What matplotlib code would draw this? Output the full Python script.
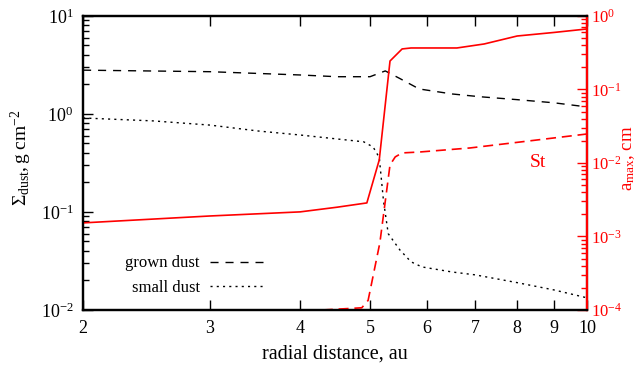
import matplotlib
matplotlib.use('Agg')
import matplotlib.pyplot as plt
from matplotlib.ticker import FixedLocator, FuncFormatter, LogLocator, NullLocator

plt.rcParams['font.family'] = ['Liberation Serif', 'DejaVu Serif']
plt.rcParams['mathtext.fontset'] = 'custom'
plt.rcParams['mathtext.rm'] = 'Liberation Serif'
plt.rcParams['mathtext.it'] = 'Liberation Serif:italic'
plt.rcParams['axes.unicode_minus'] = False

# grown dust surface density, g cm^-2
rGrown = [2.0, 3.0, 4.0, 4.5, 5.0, 5.25, 5.5, 5.85, 6.5, 7.1, 8.0, 9.0, 10.0]
sigGrown = [2.8, 2.7, 2.5, 2.4, 2.4, 2.75, 2.3, 1.8, 1.6, 1.5, 1.4, 1.3, 1.18]

# small dust surface density, g cm^-2
rSmall = [2.0, 2.5, 3.0, 3.5, 4.0, 4.5, 4.9, 5.05, 5.15, 5.22, 5.3, 5.5, 5.7, 5.9, 6.5, 7.0, 8.0, 9.0, 10.0]
sigSmall = [0.91, 0.85, 0.77, 0.67, 0.61, 0.556, 0.52, 0.46, 0.36, 0.13, 0.06, 0.041, 0.031, 0.0275,
            0.0244, 0.0228, 0.019, 0.016, 0.0133]

# maximum grain size, cm
rAmax = [2.0, 3.0, 4.0, 4.5, 4.95, 5.15, 5.33, 5.54, 5.7, 6.6, 7.2, 8.0, 9.0, 10.0]
aMax = [0.00153, 0.0019, 0.00216, 0.0025, 0.00286, 0.011, 0.244, 0.356, 0.367, 0.367, 0.416,
        0.534, 0.597, 0.666]

# Stokes number
rSt = [4.3, 4.87, 4.97, 5.16, 5.33, 5.42, 5.54, 5.86, 6.88, 8.08, 10.0]
St = [1.0e-4, 1.07e-4, 1.35e-4, 8.2e-4, 0.0094, 0.0121, 0.0137, 0.0141, 0.016, 0.0193, 0.0248]

xTicks = [2, 3, 4, 5, 6, 7, 8, 9, 10]

fig = plt.figure(figsize=(6.39, 3.69), dpi=100)
ax1 = fig.add_axes([0.130, 0.160, 0.7887, 0.7967])
ax2 = ax1.twinx()

ax1.plot(rGrown, sigGrown, color='black', lw=1.0, dashes=(5.8, 5), label='grown dust')
ax1.plot(rSmall, sigSmall, color='black', lw=1.0, dashes=(1.5, 3), label='small dust')
ax2.plot(rAmax, aMax, color='red', lw=1.2)
ax2.plot(rSt, St, color='red', lw=1.2, dashes=(6, 3.5))

ax1.set_xscale('log')
ax1.set_yscale('log')
ax2.set_yscale('log')
ax1.set_xlim(2, 10)
ax1.set_ylim(1e-2, 1e1)
ax2.set_ylim(1e-4, 1e0)

ax1.xaxis.set_major_locator(FixedLocator(xTicks))
ax1.xaxis.set_major_formatter(FuncFormatter(lambda v, p: '%d' % round(v)))
ax1.xaxis.set_minor_locator(NullLocator())
for a in (ax1, ax2):
    a.yaxis.set_major_locator(LogLocator(base=10, numticks=10))
    a.yaxis.set_minor_locator(LogLocator(base=10, subs=range(2, 10), numticks=10))

ax1.tick_params(axis='x', which='major', direction='in', length=7, width=1, top=True,
                labelsize=13, pad=7)
ax1.tick_params(axis='y', which='major', direction='in', length=7, width=1, right=False,
                labelsize=13, pad=7)
ax1.tick_params(axis='y', which='minor', direction='in', length=4, width=1, right=False)
ax2.tick_params(axis='y', which='major', direction='in', length=7, width=1, colors='red',
                labelsize=12, pad=3)
ax2.tick_params(axis='y', which='minor', direction='in', length=4, width=1, colors='red')

for s in ax1.spines.values():
    s.set_linewidth(1.6)
for s in ax2.spines.values():
    s.set_linewidth(1.6)
ax2.spines['right'].set_color('red')

ax1.set_xlabel('radial distance, au', fontsize=14.5, labelpad=6)
ax1.set_ylabel(r'$\Sigma_{\rm dust}\mathrm{, g\ cm}^{-2}$', fontsize=14)
ax1.yaxis.set_label_coords(-0.097, 0.517)
ax2.set_ylabel(r'a$_{\rm max}$, cm', fontsize=13.5, color='red')
ax2.yaxis.set_label_coords(1.066, 0.517)

ax2.text(8.55, 0.01, 'St', color='red', fontsize=14, ha='center', va='center')

ax1.legend(loc='center right', bbox_to_anchor=(0.357, 0.117), frameon=False, markerfirst=False,
           fontsize=12, handlelength=3.2, handletextpad=0.6, labelspacing=0.5,
           borderpad=0, borderaxespad=0)

fig.savefig('out.png', dpi=100)
